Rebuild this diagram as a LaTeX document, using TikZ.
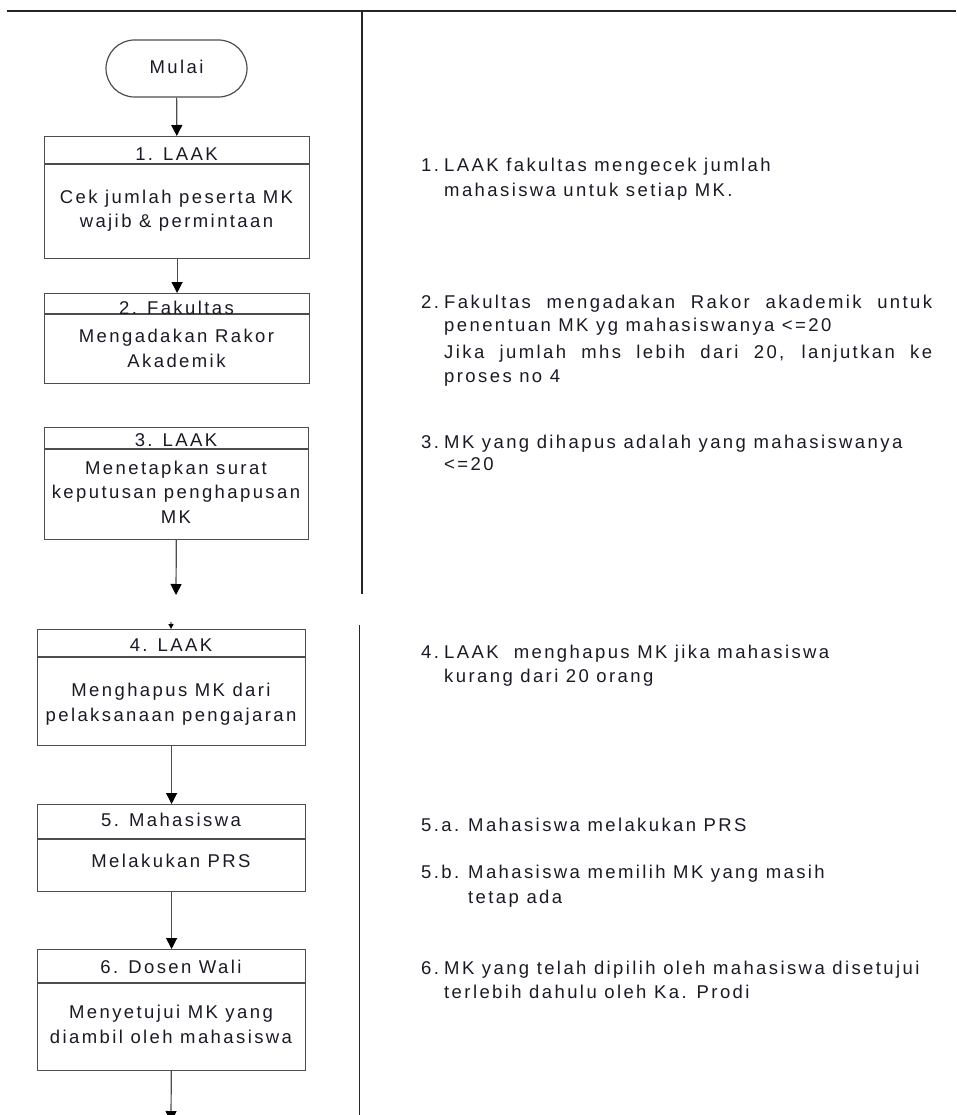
\documentclass[tikz,border=0pt]{standalone}
\usepackage{fontspec}
\setmainfont[LetterSpace=13]{Liberation Sans}
\usetikzlibrary{arrows.meta,shapes.misc}
\definecolor{ink}{HTML}{1A1A24}
\definecolor{edge}{HTML}{4D4D4D}

\begin{document}
\begin{tikzpicture}[x=1pt, y=-1pt,
  proc/.style={draw=edge, line width=1.2pt, anchor=north west, inner sep=0pt},
  term/.style={draw=edge, line width=1.2pt, rounded rectangle, minimum width=141pt, minimum height=57pt, inner sep=0pt},
  lbl/.style={font=\fontsize{18.5}{24.5}\selectfont, text=ink, align=center, inner sep=0pt, anchor=base},
  note/.style={font=\fontsize{18.5}{24}\selectfont, text=ink, anchor=base west, inner sep=0pt},
  rule/.style={draw=black!85, line width=1.3pt},
  arr/.style={-{Triangle[length=11pt, width=11pt, color=black]}, draw=edge, line width=1.2pt},
  tick/.style={-{Triangle[length=5pt, width=5pt, color=black]}, draw=edge, line width=1.2pt}]
  \useasboundingbox (0,0) rectangle (956,1115);
  % page rules
  \draw[rule] (7,11) -- (956,11);
  \draw[rule] (362,11) -- (362,594);
  \draw[rule] (359.5,625) -- (359.5,1115);
  % flow
  \node[term] (start) at (176.5,68.5) {};
  \node[lbl] (startt) at (176.5,74) {Mulai};
  \node[proc, minimum width=265pt, minimum height=122pt] (b1) at (44,136) {};
  \draw[edge, line width=1.2pt] ([yshift=-28pt]b1.north west) -- ([yshift=-28pt]b1.north east);
  \node[lbl] (b1h) at (176.5,160.7) {1. LAAK};
  \node[lbl] (b1t) at (176.5,228) {Cek jumlah peserta MK\\wajib \& permintaan};
  \node[proc, minimum width=265pt, minimum height=90pt] (b2) at (44,293) {};
  \draw[edge, line width=1.2pt] ([yshift=-21pt]b2.north west) -- ([yshift=-21pt]b2.north east);
  \node[lbl] (b2h) at (176.5,314) {2. Fakultas};
  \node[lbl] (b2t) at (176.5,367) {Mengadakan Rakor\\Akademik};
  \node[proc, minimum width=264pt, minimum height=112pt] (b3) at (44,427) {};
  \draw[edge, line width=1.2pt] ([yshift=-22pt]b3.north west) -- ([yshift=-22pt]b3.north east);
  \node[lbl] (b3h) at (176,446.7) {3. LAAK};
  \node[lbl] (b3t) at (176,523) {Menetapkan surat\\keputusan penghapusan\\MK};
  \coordinate (gap3) at (176,595);
  \coordinate (gap4) at (171,622);
  \node[proc, minimum width=268pt, minimum height=116pt] (b4) at (37,629) {};
  \draw[edge, line width=1.2pt] ([yshift=-28pt]b4.north west) -- ([yshift=-28pt]b4.north east);
  \node[lbl] (b4h) at (171,651) {4. LAAK};
  \node[lbl] (b4t) at (171,721) {Menghapus MK dari\\pelaksanaan pengajaran};
  \node[proc, minimum width=268pt, minimum height=87pt] (b5) at (37,804) {};
  \draw[edge, line width=1.2pt] ([yshift=-35pt]b5.north west) -- ([yshift=-35pt]b5.north east);
  \node[lbl] (b5h) at (171,826.7) {5. Mahasiswa};
  \node[lbl] (b5t) at (171,867) {Melakukan PRS};
  \node[proc, minimum width=268pt, minimum height=121pt] (b6) at (37,949) {};
  \draw[edge, line width=1.2pt] ([yshift=-34pt]b6.north west) -- ([yshift=-34pt]b6.north east);
  \node[lbl] (b6h) at (171,973) {6. Dosen Wali};
  \node[lbl] (b6t) at (171,1043) {Menyetujui MK yang\\diambil oleh mahasiswa};
  \coordinate (tail) at (171,1122);
  \draw[arr] (start) -- (b1);
  \draw[arr] (b1) -- (b2);
  \draw[arr] (b3) -- (gap3);
  \draw[tick] (gap4) -- (b4);
  \draw[arr] (b4) -- (b5);
  \draw[arr] (b5) -- (b6);
  \draw[arr] (b6) -- (tail);
  % notes
  \node[note] (n1a) at (421,172) {\makebox[23pt][l]{1.}LAAK fakultas mengecek jumlah};
  \node[note] (n1b) at (444,196.5) {mahasiswa untuk setiap MK.};
  \node[note] (n2a) at (421,308) {\makebox[23pt][l]{2.}\makebox[488pt][s]{Fakultas mengadakan Rakor akademik untuk}};
  \node[note] (n2b) at (444,331) {penentuan MK yg mahasiswanya <=20};
  \node[note] (n2c) at (444,358) {\makebox[488pt][s]{Jika jumlah mhs lebih dari 20, lanjutkan ke}};
  \node[note] (n2d) at (444,382) {proses no 4};
  \node[note] (n3a) at (421,448) {\makebox[23pt][l]{3.}MK yang dihapus adalah yang mahasiswanya};
  \node[note] (n3b) at (444,470) {<=20};
  \node[note] (n4a) at (421,658.7) {\makebox[23pt][l]{4.}LAAK \ menghapus MK jika mahasiswa};
  \node[note] (n4b) at (444,682.7) {kurang dari 20 orang};
  \node[note] (n5a) at (421,831) {\makebox[47pt][l]{5.a.}Mahasiswa melakukan PRS};
  \node[note] (n5b) at (421,878) {\makebox[47pt][l]{5.b.}Mahasiswa memilih MK yang masih};
  \node[note] (n5c) at (468,903) {tetap ada};
  \node[note] (n6a) at (421,974) {\makebox[23pt][l]{6.}MK yang telah dipilih oleh mahasiswa disetujui};
  \node[note] (n6b) at (444,998) {terlebih dahulu oleh Ka. Prodi};
\end{tikzpicture}
\end{document}
